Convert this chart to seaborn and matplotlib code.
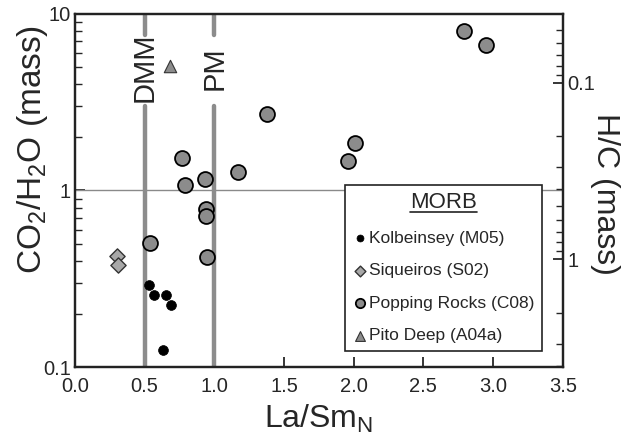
import numpy as np
import pandas as pd
import seaborn as sns
import matplotlib.pyplot as plt
from matplotlib.lines import Line2D
from matplotlib.ticker import LogLocator, NullFormatter

# values
kolb_x = [0.53, 0.57, 0.65, 0.69, 0.63]
kolb_y = [0.29, 0.255, 0.255, 0.224, 0.125]

siq_x = [0.30, 0.31]
siq_y = [0.425, 0.38]

pop_x = [0.54, 0.95, 0.77, 0.79, 0.93, 1.17, 1.38, 0.94, 0.94, 2.01, 1.96, 2.79, 2.95]
pop_y = [0.505, 0.42, 1.52, 1.08, 1.16, 1.28, 2.70, 0.79, 0.72, 1.85, 1.47, 8.0, 6.7]

pito_x = [0.68]
pito_y = [5.07]

ref_lines = [0.5, 1.0]
ref_names = ['DMM', 'PM']

# mass H/C = (2/18)/(12/44) / (CO2/H2O)
hc_factor = (2 / 18) / (12 / 44)

sns.set_style('ticks')
plt.rcParams['font.family'] = ['Liberation Sans', 'DejaVu Sans']
plt.rcParams['mathtext.default'] = 'regular'

fig = plt.figure(figsize=(6.24, 4.45), dpi=100)
ax = fig.add_axes([0.120, 0.175, 0.782, 0.794])

ax.axhline(1, color='#8a8a8a', lw=1, zorder=1)
for xv, name in zip(ref_lines, ref_names):
    ax.plot([xv, xv], [0.1, 3.0], color='#8c8c8c', lw=3.2, zorder=1)
    ax.plot([xv, xv], [7.6, 10], color='#8c8c8c', lw=3.2, zorder=1)
    ax.text(xv, 4.95, name, rotation=90, ha='center', va='center', fontsize=21)

sns.scatterplot(x=kolb_x, y=kolb_y, ax=ax, color='black', marker='o', s=50,
                edgecolor='black', linewidth=0.5, label='Kolbeinsey (M05)', zorder=3)
sns.scatterplot(x=siq_x, y=siq_y, ax=ax, color='#a8a8a8', marker='D', s=60,
                edgecolor='#333333', linewidth=1.0, label='Siqueiros (S02)', zorder=3)
sns.scatterplot(x=pop_x, y=pop_y, ax=ax, color='#8c8c8c', marker='o', s=115,
                edgecolor='black', linewidth=1.3, label='Popping Rocks (C08)', zorder=3)
sns.scatterplot(x=pito_x, y=pito_y, ax=ax, color='#8c8c8c', marker='^', s=80,
                edgecolor='#333333', linewidth=0.8, label='Pito Deep (A04a)', zorder=3)

ax.set_yscale('log')
ax.set_xlim(0, 3.5)
ax.set_ylim(0.1, 10)
ax.set_xticks(np.arange(0, 3.51, 0.5))
ax.set_xticklabels([f'{v:.1f}' for v in np.arange(0, 3.51, 0.5)])
ax.set_yticks([0.1, 1, 10])
ax.set_yticklabels(['0.1', '1', '10'])
ax.yaxis.set_minor_locator(LogLocator(base=10, subs=np.arange(2, 10)))
ax.yaxis.set_minor_formatter(NullFormatter())
ax.tick_params(which='major', direction='in', length=7, width=1.3, labelsize=14.5, pad=3)
ax.tick_params(which='minor', direction='in', length=5, width=1.0)
ax.tick_params(axis='x', pad=7)
ax.set_xlabel('La/Sm$_N$', fontsize=23, labelpad=5)
ax.set_ylabel('CO$_2$/H$_2$O (mass)', fontsize=24)
ax.yaxis.set_label_coords(-0.051, 0.615)
for sp in ax.spines.values():
    sp.set_linewidth(1.6)
    sp.set_color('#222222')

ax2 = ax.twinx()
ax2.set_yscale('log')
ax2.set_ylim(hc_factor / 0.1, hc_factor / 10)
ax2.set_yticks([0.1, 1])
ax2.set_yticklabels(['0.1', '1'])
ax2.yaxis.set_minor_locator(LogLocator(base=10, subs=np.arange(2, 10)))
ax2.yaxis.set_minor_formatter(NullFormatter())
ax2.tick_params(which='major', direction='in', length=7, width=1.3, labelsize=14.5, pad=3)
ax2.tick_params(which='minor', direction='in', length=5, width=1.0)
ax2.set_ylabel('H/C (mass)', fontsize=23, rotation=270, va='bottom')
ax2.yaxis.set_label_coords(1.055, 0.49)
for sp in ax2.spines.values():
    sp.set_linewidth(1.6)
    sp.set_color('#222222')

ax.legend_.remove()
handles, labels = ax.get_legend_handles_labels()
leg = ax2.legend(handles, labels, title='MORB', loc='lower right',
                 bbox_to_anchor=(0.957, 0.045), borderaxespad=0,
                 fontsize=12.5, title_fontsize=16,
                 handletextpad=0.1, handlelength=0.8,
                 labelspacing=1.0, borderpad=0.45, fancybox=False, framealpha=1,
                 edgecolor='#222222')
leg.get_frame().set_linewidth(1.2)
for h, sz in zip(leg.legend_handles, [25, 30, 45, 50]):
    h.set_sizes([sz])

# underline the legend title
fig.canvas.draw()
tb = leg.get_title().get_window_extent()
fig.add_artist(Line2D([tb.x0, tb.x1], [tb.y0 + 1, tb.y0 + 1], transform=None,
                      color='#222222', lw=1.2))

fig.savefig('out.png', dpi=100)
